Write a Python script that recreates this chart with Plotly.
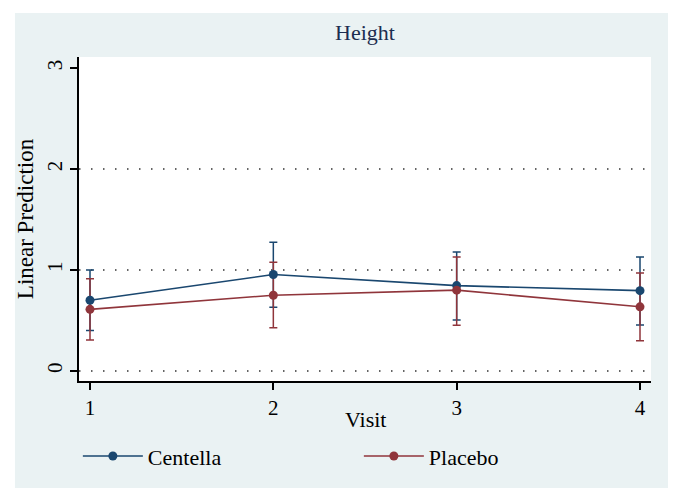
import plotly.graph_objects as go

visits = [1, 2, 3, 4]
centella_mean = [0.70, 0.955, 0.845, 0.795]
centella_low = [0.40, 0.630, 0.505, 0.455]
centella_high = [1.00, 1.275, 1.178, 1.128]
placebo_mean = [0.610, 0.750, 0.800, 0.635]
placebo_low = [0.305, 0.427, 0.453, 0.298]
placebo_high = [0.914, 1.076, 1.128, 0.970]
y_ticks = [0, 1, 2, 3]
grid_vals = [0, 1, 2]
x_ticks = [1, 2, 3, 4]

NAVY = "#1A476F"
MAROON = "#90353B"
PANEL = "#EAF2F3"
FONT = "Liberation Serif"

fig = go.Figure()

series = [
    ("Centella", centella_mean, centella_low, centella_high, NAVY),
    ("Placebo", placebo_mean, placebo_low, placebo_high, MAROON),
]

# confidence intervals first (drawn beneath lines and markers)
for name, m, lo, hi, col in series:
    fig.add_trace(go.Scatter(
        x=visits, y=m, mode="markers",
        marker=dict(color="rgba(0,0,0,0)", size=1),
        error_y=dict(type="data", symmetric=False,
                     array=[h - v for h, v in zip(hi, m)],
                     arrayminus=[v - l for l, v in zip(lo, m)],
                     color=col, thickness=1.5, width=4),
        showlegend=False, hoverinfo="skip"))

for name, m, lo, hi, col in series:
    fig.add_trace(go.Scatter(
        x=visits, y=m, mode="lines+markers", name=name,
        line=dict(color=col, width=1.6),
        marker=dict(color=col, size=9)))

shapes = [
    dict(type="rect", xref="paper", yref="paper",
         x0=-0.112, x1=1.0297, y0=-0.330, y1=1.136,
         fillcolor=PANEL, line=dict(width=0), layer="below"),
    dict(type="rect", xref="paper", yref="paper",
         x0=0, x1=1, y0=0, y1=1,
         fillcolor="white", line=dict(width=0), layer="below"),
]
for g in grid_vals:
    shapes.append(dict(type="line", xref="paper", yref="y",
                       x0=0, x1=1, y0=g, y1=g,
                       line=dict(color="#333333", width=1.5, dash="1.5px,10.5px"),
                       layer="below"))

fig.update_layout(
    width=682, height=502,
    margin=dict(l=79, r=31, t=57, b=121),
    paper_bgcolor="white", plot_bgcolor="white",
    font=dict(family=FONT, size=21, color="black"),
    title=dict(text="Height", x=0.5, xanchor="center", xref="paper",
               y=1 - 32 / 502, yanchor="middle", yref="container",
               font=dict(family=FONT, size=22, color="#1C2D50")),
    shapes=shapes,
    annotations=[dict(text="Visit", xref="paper", yref="paper",
                      x=0.5, y=-0.12, xanchor="center", yanchor="middle",
                      showarrow=False, font=dict(family=FONT, size=22, color="black"))],
    showlegend=True,
    legend=dict(orientation="h", x=-0.002, xanchor="left",
                y=-0.232, yanchor="middle",
                entrywidth=206, entrywidthmode="pixels",
                bgcolor="rgba(0,0,0,0)", font=dict(family=FONT, size=22),
                itemwidth=60),
)

fig.update_xaxes(range=[0.94, 4.06], tickvals=x_ticks, ticktext=[str(v) for v in x_ticks],
                 showline=True, linecolor="black", linewidth=1.5,
                 ticks="outside", ticklen=7, tickwidth=1.5, tickcolor="black",
                 showgrid=False, zeroline=False,
                 tickfont=dict(size=21))
fig.update_yaxes(range=[-0.1, 3.11], tickvals=y_ticks, ticktext=[str(v) for v in y_ticks],
                 showline=True, linecolor="black", linewidth=1.5,
                 ticks="outside", ticklen=7, tickwidth=1.5, tickcolor="black",
                 showgrid=False, zeroline=False, tickangle=-90,
                 title=dict(text="Linear Prediction", standoff=3, font=dict(size=23)),
                 tickfont=dict(size=21))

fig.write_html("out.html", config={"displayModeBar": False},
               post_script="document.body.style.margin='0';document.body.style.overflow='hidden';")
